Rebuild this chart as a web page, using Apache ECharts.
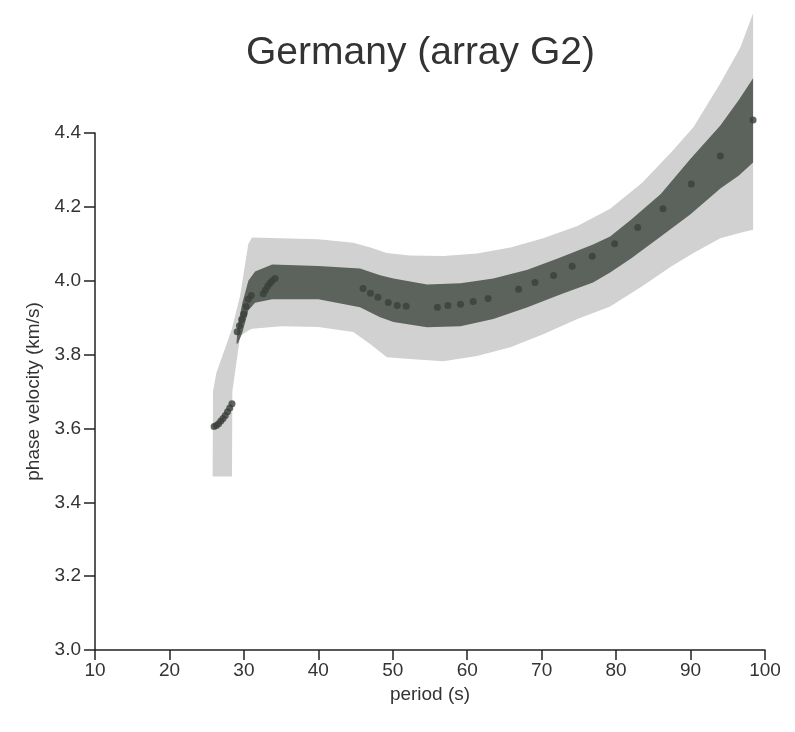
<!DOCTYPE html>
<html>
<head>
<meta charset="utf-8">
<script src="https://cdn.jsdelivr.net/npm/echarts@6/dist/echarts.min.js"></script>
<style>
  html, body { margin: 0; padding: 0; background: #fff; }
  #chart { width: 795px; height: 732px; }
</style>
</head>
<body>
<div id="chart"></div>
<script>
// outer (light) band
var lightX     = [25.8, 25.85, 26.3, 28.4, 28.45, 29.5, 30.2, 30.6, 31.1, 35, 40, 44.7, 47, 49.2, 52.3, 56.8, 61.3, 65.8, 70.2, 74.8, 79.2, 83.5, 87.5, 90.4, 94.0, 96.7, 98.4];
var lightLower = [3.47, 3.47, 3.47, 3.47, 3.70, 3.85, 3.86, 3.865, 3.87, 3.877, 3.875, 3.861, 3.828, 3.793, 3.788, 3.782, 3.796, 3.82, 3.855, 3.896, 3.93, 3.985, 4.04, 4.075, 4.115, 4.13, 4.138];
var lightUpper = [3.47, 3.70, 3.75, 3.87, 3.875, 3.96, 4.05, 4.10, 4.117, 4.115, 4.112, 4.103, 4.09, 4.075, 4.068, 4.067, 4.074, 4.09, 4.115, 4.148, 4.195, 4.265, 4.35, 4.416, 4.535, 4.632, 4.724];

// inner (dark) band
var darkX     = [29.0, 29.2, 29.8, 30.6, 31.5, 33.8, 40, 45.6, 48.3, 50.1, 54.6, 59.1, 63.5, 68.1, 72.5, 76.9, 79.2, 82, 86, 90, 94, 96.5, 98.4];
var darkLower = [3.83, 3.83, 3.86, 3.92, 3.94, 3.95, 3.95, 3.928, 3.901, 3.888, 3.874, 3.877, 3.896, 3.928, 3.963, 3.995, 4.022, 4.06, 4.12, 4.18, 4.25, 4.285, 4.32];
var darkUpper = [3.83, 3.88, 3.94, 4.0, 4.025, 4.044, 4.04, 4.033, 4.015, 4.006, 3.99, 3.993, 4.006, 4.03, 4.063, 4.098, 4.12, 4.165, 4.235, 4.33, 4.42, 4.49, 4.548];

// measured phase velocities
var periods = [26.0, 26.3, 26.6, 26.9, 27.2, 27.5, 27.8, 28.1, 28.4,
  29.1, 29.4, 29.7, 30.0, 30.3, 30.6, 31.0, 32.6, 32.9, 33.2, 33.5, 33.8, 34.2,
  46.0, 47.0, 48.0, 49.4, 50.6, 51.8, 56.0, 57.4, 59.1, 60.8, 62.8, 66.9, 69.1, 71.6, 74.1, 76.8, 79.8, 82.9, 86.3, 90.1, 94.0, 98.4];
var velocities = [3.605, 3.608, 3.613, 3.62, 3.627, 3.635, 3.645, 3.655, 3.667,
  3.862, 3.878, 3.895, 3.91, 3.93, 3.95, 3.96, 3.965, 3.975, 3.985, 3.993, 4.0, 4.006,
  3.979, 3.966, 3.955, 3.941, 3.933, 3.931, 3.928, 3.933, 3.936, 3.944, 3.952, 3.977, 3.995, 4.014, 4.039, 4.066, 4.10, 4.144, 4.195, 4.262, 4.338, 4.435];

function pairs(xs, ys) {
  var out = [];
  for (var i = 0; i < xs.length; i++) out.push([xs[i], ys[i]]);
  return out;
}

// band = polygon along lower edge, back along upper edge
function bandSeries(xs, lo, hi, color) {
  return {
    type: 'custom',
    silent: true,
    clip: false,
    data: pairs(xs, lo),
    renderItem: function (params, api) {
      if (params.dataIndex !== 0) return null;
      var pts = [];
      for (var i = 0; i < xs.length; i++) pts.push(api.coord([xs[i], lo[i]]));
      for (var j = xs.length - 1; j >= 0; j--) pts.push(api.coord([xs[j], hi[j]]));
      return { type: 'polygon', shape: { points: pts }, style: { fill: color } };
    }
  };
}

var font = 'Liberation Sans, Arial, sans-serif';
var chart = echarts.init(document.getElementById('chart'));

var option = {
  animation: false,
  title: {
    text: 'Germany (array G2)',
    left: 246,
    top: 34,
    padding: 0,
    textStyle: { fontFamily: font, fontSize: 39, fontWeight: 'normal', color: '#333' }
  },
  grid: { left: 95, right: 30, top: 133, bottom: 82 },
  xAxis: {
    type: 'value',
    min: 10,
    max: 100,
    interval: 10,
    name: 'period (s)',
    nameLocation: 'middle',
    nameGap: 32,
    nameTextStyle: { fontFamily: font, fontSize: 19, color: '#333' },
    axisLine: { lineStyle: { color: '#222', width: 1.5 } },
    axisTick: { length: 10, lineStyle: { color: '#222', width: 1.5 } },
    axisLabel: { fontFamily: font, fontSize: 19, color: '#333', margin: 11 },
    splitLine: { show: false }
  },
  yAxis: {
    type: 'value',
    min: 3.0,
    max: 4.4,
    interval: 0.2,
    name: 'phase velocity (km/s)',
    nameLocation: 'middle',
    nameGap: 50,
    nameTextStyle: { fontFamily: font, fontSize: 19, color: '#333' },
    axisLine: { lineStyle: { color: '#222', width: 1.5 } },
    axisTick: { length: 11, lineStyle: { color: '#222', width: 1.5 } },
    axisLabel: {
      fontFamily: font, fontSize: 19, color: '#333', margin: 14,
      formatter: function (v) { return v.toFixed(1); }
    },
    splitLine: { show: false }
  },
  series: [
    bandSeries(lightX, lightLower, lightUpper, '#d1d1d1'),
    bandSeries(darkX, darkLower, darkUpper, '#5c635d'),
    {
      type: 'scatter', data: pairs(periods, velocities),
      symbolSize: 7, itemStyle: { color: '#393e3a' }, clip: false
    }
  ]
};
chart.setOption(option);
</script>
</body>
</html>
